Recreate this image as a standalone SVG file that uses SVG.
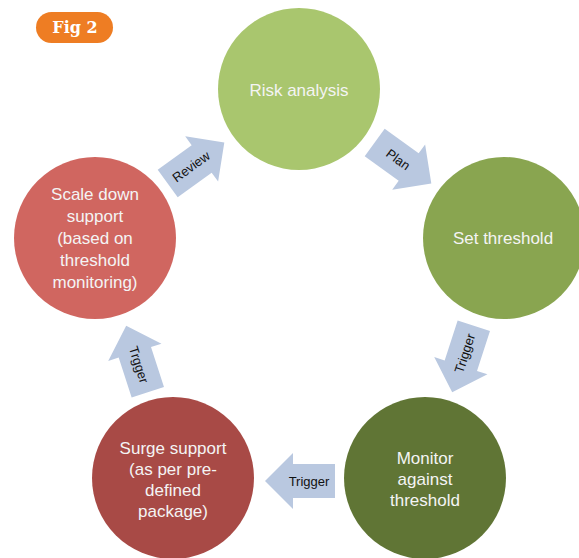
<svg xmlns="http://www.w3.org/2000/svg" width="579" height="558" viewBox="0 0 579 558">
<style>
.lbl{font-family:"Liberation Sans",Arial,sans-serif;font-size:17px;fill:#f4f4f4;text-anchor:middle}
.al{font-family:"Liberation Sans",Arial,sans-serif;font-size:13px;fill:#111;text-anchor:middle}
.arr{fill:#b9c8e0}
</style>
<defs>
<path id="ar" d="M-35,-17 L7,-17 L7,-28 L35,0 L7,28 L7,17 L-35,17 Z"/>
</defs>
<rect width="579" height="558" fill="#ffffff"/>
<g id="badge">
<rect x="36" y="12" width="77" height="31" rx="15.5" fill="#ee7d23"/>
<text x="75" y="33" font-family="'DejaVu Serif',serif" font-weight="bold" font-size="16" fill="#ffffff" text-anchor="middle">Fig 2</text>
</g>
<g id="connectors">
<g transform="translate(196,163) rotate(-36)"><use href="#ar" class="arr"/><text class="al" x="-6" y="4.5">Review</text></g>
<g transform="translate(403,163) rotate(36)"><use href="#ar" class="arr"/><text class="al" x="-6" y="4.5">Plan</text></g>
<g transform="translate(463,359) rotate(108)"><use href="#ar" class="arr"/><text class="al" transform="translate(-6,0) rotate(180)" y="4.5">Trigger</text></g>
<g transform="translate(300,481) rotate(180)"><use href="#ar" class="arr"/><text class="al" transform="translate(-9,0) rotate(180)" y="4.5">Trigger</text></g>
<g transform="translate(137,359) rotate(252)"><use href="#ar" class="arr"/><text class="al" transform="translate(-6,0) rotate(180)" y="4.5">Trgger</text></g>
</g>
<g id="risk">
<circle cx="299" cy="89" r="81" fill="#a9c66e"/>
<text class="lbl" x="299" y="96">Risk analysis</text>
</g>
<g id="set">
<circle cx="504" cy="238" r="81" fill="#89a550"/>
<text class="lbl" x="503" y="244">Set threshold</text>
</g>
<g id="monitor">
<circle cx="425" cy="478" r="81" fill="#607535"/>
<text class="lbl" x="425" y="464">Monitor</text>
<text class="lbl" x="425" y="485">against</text>
<text class="lbl" x="425" y="506">threshold</text>
</g>
<g id="surge">
<circle cx="173" cy="478" r="81" fill="#a84a46"/>
<text class="lbl" x="173" y="454">Surge support</text>
<text class="lbl" x="173" y="475">(as per pre-</text>
<text class="lbl" x="173" y="496">defined</text>
<text class="lbl" x="173" y="517">package)</text>
</g>
<g id="scale">
<circle cx="95" cy="238" r="81" fill="#d06660"/>
<text class="lbl" x="95" y="200">Scale down</text>
<text class="lbl" x="95" y="222">support</text>
<text class="lbl" x="95" y="244">(based on</text>
<text class="lbl" x="95" y="266">threshold</text>
<text class="lbl" x="95" y="288">monitoring)</text>
</g>
</svg>
